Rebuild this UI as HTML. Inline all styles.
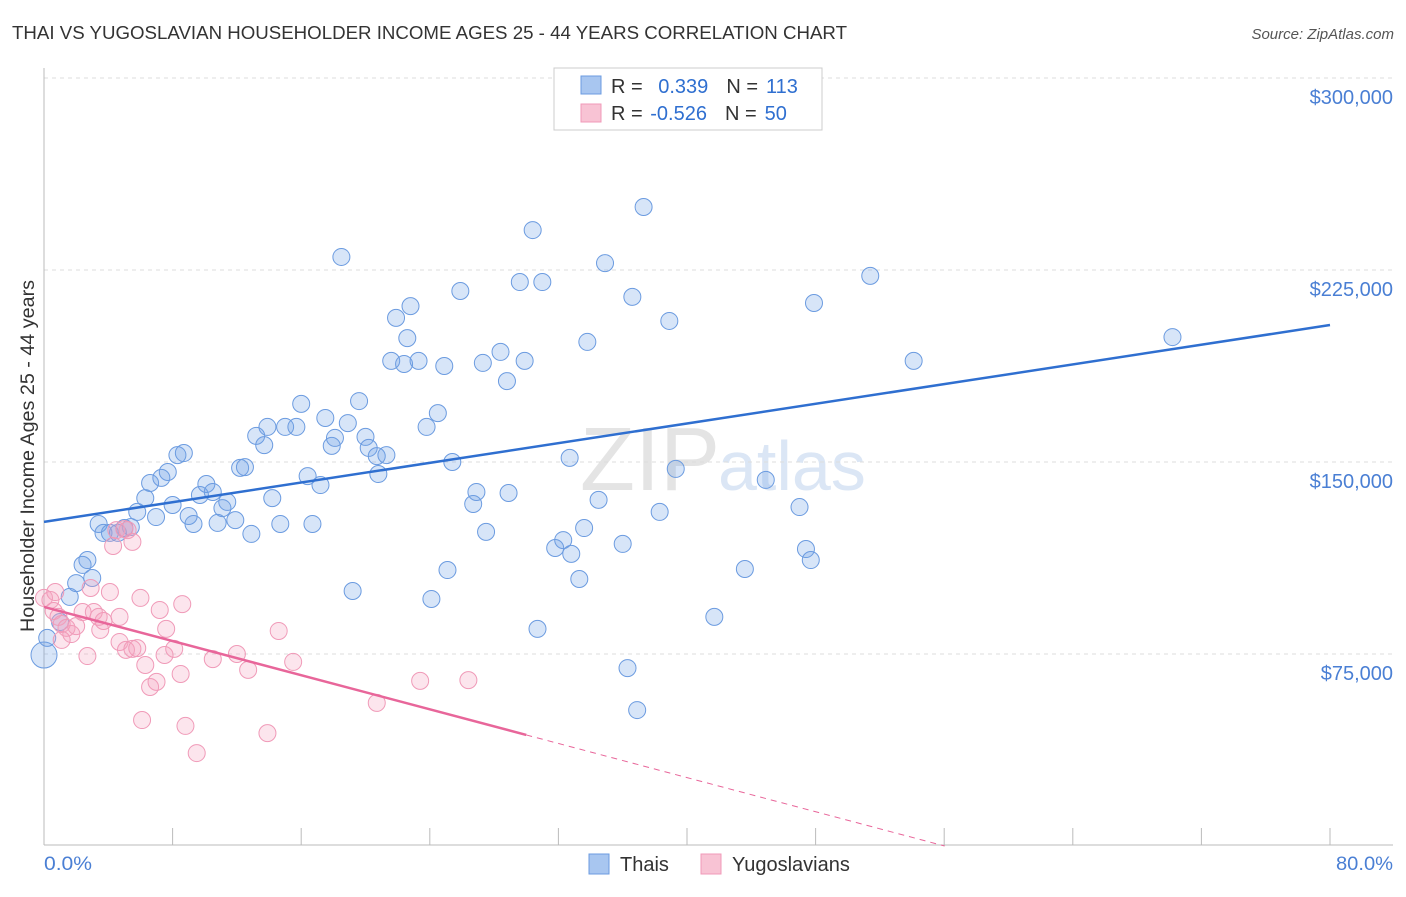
<!DOCTYPE html>
<html><head><meta charset="utf-8"><style>
body{margin:0;background:#fff;font-family:"Liberation Sans",sans-serif;}
svg text{font-family:"Liberation Sans",sans-serif;}
</style></head><body>
<svg id="chart" width="1406" height="892">
<text x="12" y="39" font-size="18" fill="#333" textLength="835" lengthAdjust="spacingAndGlyphs">THAI VS YUGOSLAVIAN HOUSEHOLDER INCOME AGES 25 - 44 YEARS CORRELATION CHART</text>
<text x="1394" y="39" font-size="15" fill="#555" font-style="italic" text-anchor="end">Source: ZipAtlas.com</text>
<text x="720" y="490" font-size="90" fill="#e4e4e4" font-family="Liberation Serif" text-anchor="end">ZIP</text>
<text x="718" y="490" font-size="70" fill="#dbe6f5">atlas</text>
<g id="grid"></g>
<g id="axes"></g>
<g id="marks"></g>
<text transform="translate(34,456) rotate(-90)" font-size="19" fill="#333" text-anchor="middle" textLength="352" lengthAdjust="spacingAndGlyphs">Householder Income Ages 25 - 44 years</text>
<text x="44" y="870" font-size="19" fill="#4a7fd4" textLength="48" lengthAdjust="spacingAndGlyphs">0.0%</text>
<text x="1336" y="870" font-size="19" fill="#4a7fd4" textLength="57" lengthAdjust="spacingAndGlyphs">80.0%</text>
<g>
<rect x="554" y="68" width="268" height="62" fill="#fff" stroke="#ccc"/>
<rect x="581" y="76" width="20" height="18" fill="#a8c6f0" stroke="#6b9be0"/>
<rect x="581" y="104" width="20" height="18" fill="#f8c3d4" stroke="#f09ab8"/>
<text x="611" y="93" font-size="20" fill="#333">R = <tspan fill="#2f6fd0" dx="10">0.339</tspan><tspan dx="18" fill="#333">N =</tspan><tspan dx="8" fill="#2f6fd0">113</tspan></text>
<text x="611" y="120" font-size="20" fill="#333">R = <tspan fill="#2f6fd0" dx="2">-0.526</tspan><tspan dx="18" fill="#333">N =</tspan><tspan dx="8" fill="#2f6fd0">50</tspan></text>
</g>
<g><rect x="589" y="854" width="20" height="20" fill="#a8c6f0" stroke="#6b9be0"/><text x="620" y="871" font-size="20" fill="#333">Thais</text></g>
<g><rect x="701" y="854" width="20" height="20" fill="#f8c3d4" stroke="#f09ab8"/><text x="732" y="871" font-size="20" fill="#333">Yugoslavians</text></g>
</svg>
<script>
const yTicks=[75,150,225,300];
const yTickLabels=["$75,000","$150,000","$225,000","$300,000"];
const xTicks=[0,8,16,24,32,40,48,56,64,72,80];
const thaiX=[0,0.2,1.0,1.6,2.0,2.4,2.7,3.0,3.4,3.7,4.1,4.6,5.0,5.4,5.8,6.3,6.6,6.97,7.3,7.7,8.3,8.7,8.0,9.0,9.3,9.7,10.1,10.5,10.8,11.1,11.4,11.9,12.2,12.5,12.9,13.2,13.7,13.9,14.2,14.7,15.0,15.7,16.0,16.4,16.7,17.2,17.5,17.9,18.1,18.5,18.9,19.2,19.6,20.0,20.2,20.7,20.8,21.3,21.6,21.9,22.4,22.8,22.6,23.3,23.8,24.1,24.5,24.9,25.1,25.4,25.9,26.7,26.9,27.3,27.5,28.4,28.8,28.9,29.6,29.9,30.4,30.7,31.0,31.8,32.3,32.7,32.8,33.3,33.6,33.8,34.5,34.9,36.0,36.3,36.6,36.9,37.3,38.3,38.9,39.3,41.7,43.6,44.9,47.0,47.4,47.7,47.9,51.4,54.1,70.2];
const thaiY=[74.6,81.3,87.5,97.3,102.7,109.8,111.7,104.7,125.8,122.3,122.3,122.3,124.2,124.6,130.5,135.9,141.8,128.5,143.8,146.1,152.7,153.5,133.2,128.9,125.8,137.1,141.4,138.3,126.2,132.0,134.4,127.3,147.7,148.0,121.9,160.2,156.6,163.7,135.9,125.8,163.7,163.7,172.7,144.5,125.8,141.0,167.2,156.3,159.4,230.1,165.2,99.6,173.8,159.8,155.5,152.3,145.3,152.7,189.5,206.3,188.3,210.9,198.4,189.5,163.7,96.5,169.1,187.5,107.8,150.0,216.8,133.6,138.3,188.7,122.7,193.0,181.6,137.9,220.3,189.5,240.6,84.8,220.3,116.4,119.5,151.6,114.1,104.3,124.2,196.9,135.2,227.7,118.0,69.5,214.5,53.1,249.6,130.5,205.1,147.3,89.5,108.2,143.0,132.4,116.0,111.7,212.1,222.7,189.5,198.8];
const yugoX=[0,0.4,0.6,0.9,1.1,1.4,1.7,2.0,2.4,2.7,3.1,3.4,3.5,3.7,4.1,4.3,4.5,4.7,5.0,5.2,5.5,4.7,5.1,5.5,5.8,6.1,6.3,6.6,7.0,7.2,7.5,7.6,8.1,8.5,8.6,8.8,9.5,10.5,12.0,12.7,13.9,14.6,15.5,20.7,23.4,26.4,6.0,0.7,2.9,1.1];
const yugoY=[96.9,96.1,91.8,89.5,86.7,85.2,82.8,85.9,91.4,74.2,91.4,89.5,84.4,87.9,99.2,117.2,123.4,89.5,123.8,123.4,118.8,79.7,76.6,77.0,77.3,49.2,70.7,62.1,64.1,92.2,74.6,84.8,77.0,67.2,94.5,46.9,36.3,73.0,75.0,68.8,44.1,84.0,71.9,55.9,64.5,64.8,96.9,99.2,100.8,80.5];
const thaiTrend=[126.6,203.5]; // value at x=0 and x=80
const yugoTrend=[93.4,-1.667]; // intercept, slope per %
const NS="http://www.w3.org/2000/svg";
const sx=v=>44+v*16.075, sy=v=>846-v*2.56;
function mk(tag,attrs,parent){const e=document.createElementNS(NS,tag);for(const k in attrs)e.setAttribute(k,attrs[k]);document.getElementById(parent).appendChild(e);return e;}
yTicks.forEach((t,i)=>{
 const g=mk('line',{x1:44,x2:1393,y1:sy(t),y2:sy(t),stroke:'#ddd','stroke-dasharray':'4,4'},'grid');
 
 
 const l=mk('text',{x:1393,y:sy(t)+26,'font-size':20,fill:'#4a7fd4','text-anchor':'end'},'grid');
 l.textContent=yTickLabels[i];
 
 
});
const xa=mk('line',{x1:44,x2:1393,y1:845,y2:845,stroke:'#bbb'},'axes');


const ya=mk('line',{x1:44,x2:44,y1:68,y2:845,stroke:'#bbb'},'axes');


xTicks.forEach(t=>{
 const k=mk('line',{x1:sx(t),x2:sx(t),y1:828,y2:845,stroke:'#bbb'},'axes');
 
 
});
thaiX.forEach((x,i)=>{
 const c=mk('circle',{cx:sx(x),cy:sy(thaiY[i]),r:i==0?13:8.5,fill:'rgba(110,160,230,0.28)',stroke:'#6b9be0','stroke-width':1},'marks');
 
 
});
yugoX.forEach((x,i)=>{
 const c=mk('circle',{cx:sx(x),cy:sy(yugoY[i]),r:8.5,fill:'rgba(245,160,190,0.28)',stroke:'#f09ab8','stroke-width':1},'marks');
 
 
});
const tl=mk('line',{x1:sx(0),y1:sy(thaiTrend[0]),x2:sx(80),y2:sy(thaiTrend[1]),stroke:'#2f6fd0','stroke-width':2.5},'marks');


const yEnd=30, yZero=-yugoTrend[0]/yugoTrend[1];
const pl=mk('line',{x1:sx(0),y1:sy(yugoTrend[0]),x2:sx(yEnd),y2:sy(yugoTrend[0]+yugoTrend[1]*yEnd),stroke:'#e8669a','stroke-width':2.5},'marks');


const pd=mk('line',{x1:sx(yEnd),y1:sy(yugoTrend[0]+yugoTrend[1]*yEnd),x2:sx(yZero),y2:sy(0),stroke:'#e8669a','stroke-width':1,'stroke-dasharray':'6,5'},'marks');


</script>
</body></html>
